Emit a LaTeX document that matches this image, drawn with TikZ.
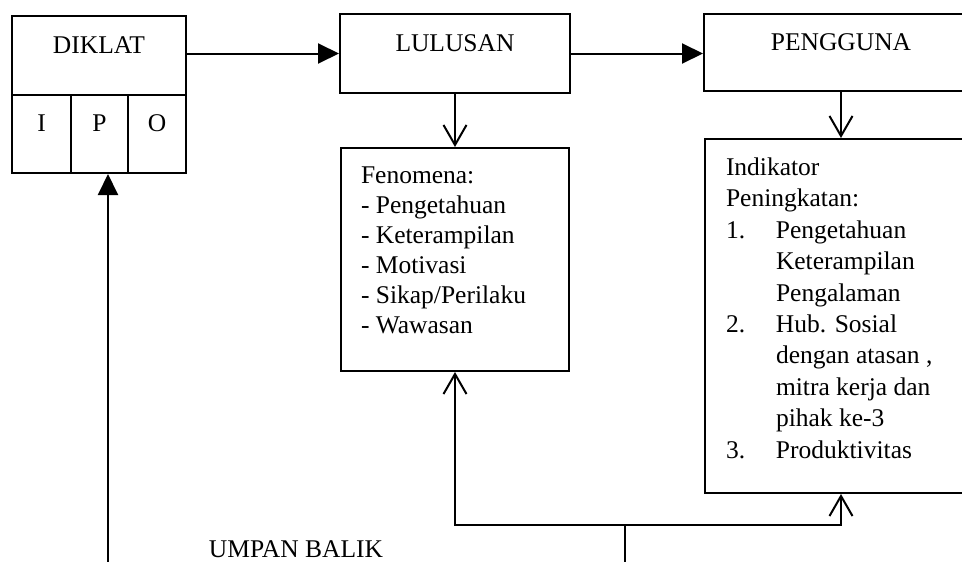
\documentclass[tikz,border=0pt]{standalone}
\usepackage{fontspec}
\setmainfont{Liberation Serif}
\usepackage{tikz}
\usetikzlibrary{arrows.meta}
\tikzset{every node/.append style={font=\fontsize{25.5pt}{31pt}\selectfont}}
\tikzset{
  topbox/.style={draw,line width=2pt,inner sep=0pt,anchor=north west,
    text height=18pt,text depth=23pt},
  listbox/.style={draw,line width=2pt,inner sep=0pt,anchor=north west},
  listtext/.style={anchor=base west,align=left,inner sep=0pt},
  fillarrow/.style={-{Triangle[length=21pt,width=20pt]}},
  openarrow/.style={-{Straight Barb[length=20pt,width=23pt]}}
}

\begin{document}
\begin{tikzpicture}[x=1pt,y=-1pt,line width=2pt]
  \useasboundingbox (0,0) rectangle (962,562);
  \clip (0,0) rectangle (962,562);
  \node[topbox,minimum width=174pt,minimum height=79pt] (diklat) at (11,15) {DIKLAT};
  \node[topbox,minimum width=59pt,minimum height=78pt] (cellI) at (11,94) {I};
  \node[topbox,minimum width=57pt,minimum height=78pt] (cellP) at (70,94) {P};
  \node[topbox,minimum width=58pt,minimum height=78pt] (cellO) at (127,94) {O};
  \node[topbox,minimum width=230pt,minimum height=79pt] (lulusan) at (339,13) {LULUSAN};
  \node[topbox,minimum width=274pt,minimum height=77pt] (pengguna) at (703,13) {PENGGUNA};
  \node[listbox,minimum width=228pt,minimum height=223pt] (fenomena) at (340,147) {};
  \node[listbox,minimum width=272pt,minimum height=354pt] (indikator) at (704,138) {};
  \node[listtext,font=\fontsize{25.5pt}{30pt}\selectfont] (fenomenatext) at (360,333)
    {Fenomena:\\- Pengetahuan\\- Keterampilan\\- Motivasi\\- Sikap/Perilaku\\- Wawasan};
  \node[listtext,font=\fontsize{25.5pt}{31.4pt}\selectfont] (indikatortext) at (725,458)
    {Indikator\\
     Peningkatan:\\
     \makebox[50pt][l]{1.}Pengetahuan\\
     \hspace*{50pt}Keterampilan\\
     \hspace*{50pt}Pengalaman\\
     \makebox[50pt][l]{2.}Hub. Sosial\\
     \hspace*{50pt}dengan atasan ,\\
     \hspace*{50pt}mitra kerja dan\\
     \hspace*{50pt}pihak ke-3\\
     \makebox[50pt][l]{3.}Produktivitas};
  \node[anchor=base] (umpanbalik) at (296,557) {UMPAN BALIK};

  \draw[fillarrow] (diklat.east |- lulusan.west) -- (lulusan.west);
  \draw[fillarrow] (lulusan.east) -- (pengguna.west |- lulusan.east);
  \draw[openarrow] (lulusan.south) -- (fenomena.north);
  \draw[openarrow] (pengguna.south) -- (indikator.north);
  \coordinate (fbbottom) at (625,562);
  \coordinate (fbjoin) at (625,525);
  \coordinate (fbleft) at (108,562);
  \draw (fbbottom) -- (fbjoin);
  \draw[openarrow] (fbjoin) -| (fenomena.south);
  \draw[openarrow] (fbjoin) -| (indikator.south);
  \draw[fillarrow] (fbleft) -- (fbleft |- cellP.south);
\end{tikzpicture}
\end{document}
